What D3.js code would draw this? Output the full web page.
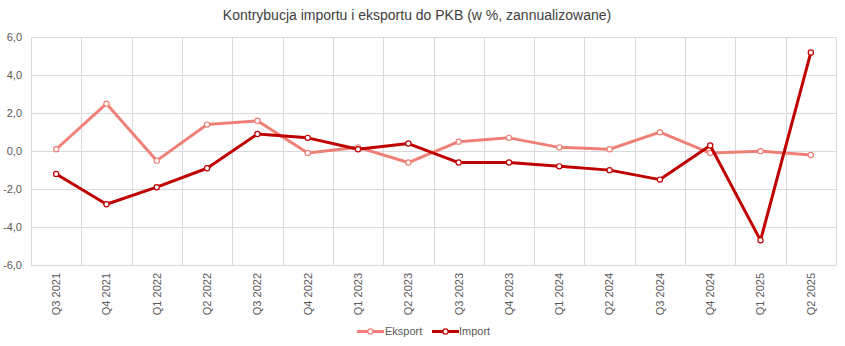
<!DOCTYPE html>
<html>
<head>
<meta charset="utf-8">
<script src="https://cdn.jsdelivr.net/npm/d3@7/dist/d3.min.js"></script>
<style>
  html, body { margin: 0; padding: 0; background: #fff; }
  svg { display: block; font-family: "Liberation Sans", Arial, sans-serif; }
</style>
</head>
<body>
<svg id="chart" width="845" height="346"></svg>
<script>
// Quarterly contributions to GDP growth (annualised, %)
const quarters = ["Q3 2021","Q4 2021","Q1 2022","Q2 2022","Q3 2022","Q4 2022","Q1 2023","Q2 2023",
                  "Q3 2023","Q4 2023","Q1 2024","Q2 2024","Q3 2024","Q4 2024","Q1 2025","Q2 2025"];
const eksport = [0.1, 2.5, -0.5, 1.4, 1.6, -0.1, 0.2, -0.6, 0.5, 0.7, 0.2, 0.1, 1.0, -0.1, 0.0, -0.2];
const importVals = [-1.2, -2.8, -1.9, -0.9, 0.9, 0.7, 0.1, 0.4, -0.6, -0.6, -0.8, -1.0, -1.5, 0.3, -4.7, 5.2];
const yTicks = [-6, -4, -2, 0, 2, 4, 6];
const seriesNames = ["Eksport", "Import"];
const seriesColors = ["#EE8078", "#C00000"];
const title = "Kontrybucja importu i eksportu do PKB (w %, zannualizowane)";

const svg = d3.select("#chart");
const m = { left: 31, right: 836, top: 37.3, bottom: 265 };

const x = d3.scaleBand().domain(quarters).range([m.left, m.right]);
const y = d3.scaleLinear().domain([-6, 6]).range([m.bottom, m.top]);
const fmt = v => d3.format(".1f")(v).replace(".", ",").replace("−", "-");

// horizontal grid
svg.append("g")
  .selectAll("line").data(yTicks).join("line")
  .attr("x1", m.left).attr("x2", m.right)
  .attr("y1", d => Math.round(y(d)) + 0.5).attr("y2", d => Math.round(y(d)) + 0.5)
  .attr("stroke", "#d9d9d9").attr("stroke-width", 1);

// vertical grid at category boundaries
const bounds = quarters.map(q => x(q)).concat([m.right]);
svg.append("g")
  .selectAll("line").data(bounds).join("line")
  .attr("x1", d => Math.round(d) + 0.5).attr("x2", d => Math.round(d) + 0.5)
  .attr("y1", m.top).attr("y2", m.bottom)
  .attr("stroke", "#d9d9d9").attr("stroke-width", 1);

// y axis labels
const yAxis = d3.axisLeft(y).tickValues(yTicks).tickFormat(fmt).tickSize(0).tickPadding(9);
svg.append("g").attr("transform", `translate(${m.left},0)`).call(yAxis)
  .call(g => g.select(".domain").remove())
  .call(g => g.selectAll("text").attr("fill", "#595959").style("font-size", "11px")
    .style("font-family", "Liberation Sans, Arial, sans-serif"));

// x axis labels (rotated)
const xAxis = d3.axisBottom(x).tickSize(0).tickPadding(0);
svg.append("g").attr("transform", `translate(0,${m.bottom})`).call(xAxis)
  .call(g => g.select(".domain").remove())
  .call(g => g.selectAll("text")
    .attr("fill", "#595959").style("font-size", "11px")
    .style("font-family", "Liberation Sans, Arial, sans-serif")
    .attr("text-anchor", "end")
    .attr("dy", "0.35em")
    .attr("transform", "translate(0,8) rotate(-90)")
    .attr("x", 0).attr("y", 0));

// title
svg.append("text")
  .attr("x", 417).attr("y", 20)
  .attr("text-anchor", "middle")
  .attr("fill", "#404040")
  .style("font-size", "14px")
  .text(title);

// series lines with hollow markers
const seriesData = [eksport, importVals];
const line = d3.line().x((d, i) => x(quarters[i]) + x.bandwidth() / 2).y(d => y(d));
seriesData.forEach((vals, si) => {
  const g = svg.append("g");
  g.append("path").datum(vals)
    .attr("d", line).attr("fill", "none")
    .attr("stroke", seriesColors[si]).attr("stroke-width", 3)
    .attr("stroke-linejoin", "round");
  g.selectAll("circle").data(vals).join("circle")
    .attr("cx", (d, i) => x(quarters[i]) + x.bandwidth() / 2)
    .attr("cy", d => y(d))
    .attr("r", 2.6)
    .attr("fill", "#fff")
    .attr("stroke", seriesColors[si]).attr("stroke-width", 1.2);
});

// legend
const legendItems = [{ x0: 357, tx: 385 }, { x0: 432, tx: 459 }];
legendItems.forEach((it, i) => {
  const g = svg.append("g");
  const ly = 331.5;
  g.append("line").attr("x1", it.x0).attr("x2", it.x0 + 27)
    .attr("y1", ly).attr("y2", ly)
    .attr("stroke", seriesColors[i]).attr("stroke-width", 3);
  g.append("circle").attr("cx", it.x0 + 13.5).attr("cy", ly).attr("r", 2.6)
    .attr("fill", "#fff").attr("stroke", seriesColors[i]).attr("stroke-width", 1.2);
  g.append("text").attr("x", it.tx).attr("y", ly).attr("dy", "0.35em")
    .attr("fill", "#595959").style("font-size", "11px")
    .text(seriesNames[i]);
});
</script>
</body>
</html>
